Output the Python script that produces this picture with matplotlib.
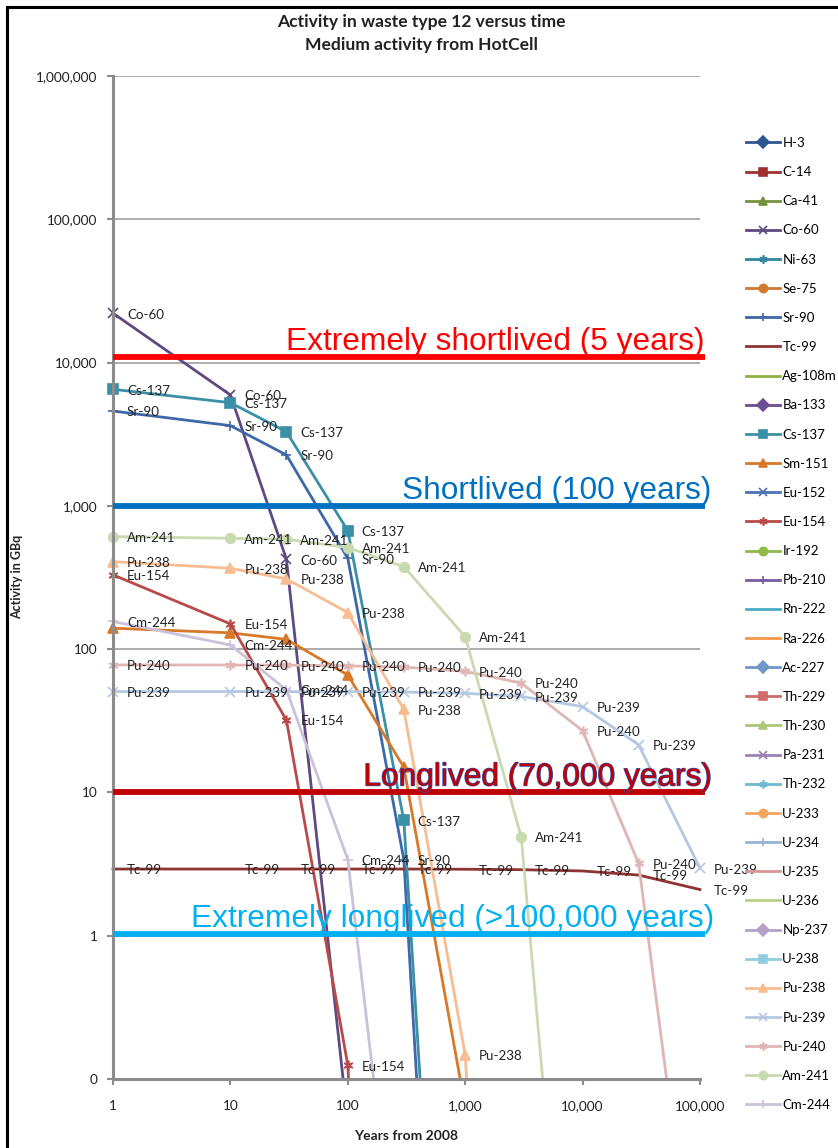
import matplotlib
matplotlib.use("Agg")
import matplotlib.pyplot as plt
import matplotlib.patheffects as pe
import matplotlib.patches as mpatches
from matplotlib.ticker import FuncFormatter, FixedLocator, NullLocator

## Data (GBq), time points in years from 2008
years = [1, 10, 30, 100, 300, 1000, 3000, 10000, 30000, 100000]

co60 = [22100, 5940, 424, 0.05]
cs137 = [6510, 5250, 3290, 671, 6.4, 1e-6]
sr90 = [4590, 3630, 2265, 430, 3.4, 1.7e-7]
tc99 = [2.92, 2.92, 2.92, 2.92, 2.92, 2.91, 2.89, 2.83, 2.65, 2.1]
sm151 = [140, 130, 117, 66, 15, 0.064]
eu154 = [330, 150, 32, 0.125, 1e-8]
pu238 = [408, 367, 309, 180, 38, 0.147, 2e-8]
pu239 = [50.6, 50.6, 50.5, 50.5, 50.2, 49.2, 46.8, 39.7, 21.5, 2.96]
pu240 = [77.6, 77.5, 77.3, 76.4, 75, 70, 58, 27, 3.2, 0.0016]
am241 = [610, 594, 585, 511, 377, 122, 4.9, 7e-5]
cm244 = [156, 107, 52, 3.4, 0.0016]

values = {"Co-60": co60, "Sr-90": sr90, "Tc-99": tc99, "Cs-137": cs137,
          "Sm-151": sm151, "Eu-154": eu154, "Pu-238": pu238, "Pu-239": pu239,
          "Pu-240": pu240, "Am-241": am241, "Cm-244": cm244}
no_labels = ["Sm-151"]

nuclides = ["H-3", "C-14", "Ca-41", "Co-60", "Ni-63", "Se-75", "Sr-90", "Tc-99",
            "Ag-108m", "Ba-133", "Cs-137", "Sm-151", "Eu-152", "Eu-154", "Ir-192",
            "Pb-210", "Rn-222", "Ra-226", "Ac-227", "Th-229", "Th-230", "Pa-231",
            "Th-232", "U-233", "U-234", "U-235", "U-236", "Np-237", "U-238",
            "Pu-238", "Pu-239", "Pu-240", "Am-241", "Cm-244"]

# class limits drawn over the chart
limit_values = [11000, 1000, 10, 1.03]
limit_texts = ["Extremely shortlived (5 years)", "Shortlived (100 years)",
               "Longlived (70,000 years)", "Extremely longlived (>100,000 years)"]
limit_text_end = [110000, 126000, 126000, 131000]

# excel-ish colours and markers
star = (6, 2, 0)
styles = {
    "H-3": ("#2f5590", "D"), "C-14": ("#a0302f", "s"), "Ca-41": ("#77933c", "^"),
    "Co-60": ("#5e4a80", "x"), "Ni-63": ("#31859c", star), "Se-75": ("#d07a30", "o"),
    "Sr-90": ("#3f68a8", "+"), "Tc-99": ("#8e3533", None), "Ag-108m": ("#8db040", None),
    "Ba-133": ("#6b4e91", "D"), "Cs-137": ("#3a90a6", "s"), "Sm-151": ("#d8792a", "^"),
    "Eu-152": ("#4a72b5", "x"), "Eu-154": ("#b84b49", star), "Ir-192": ("#8fba4a", "o"),
    "Pb-210": ("#7a5ca0", "+"), "Rn-222": ("#4bacc6", None), "Ra-226": ("#f79646", None),
    "Ac-227": ("#6f97c8", "D"), "Th-229": ("#cd6c6a", "s"), "Th-230": ("#acc775", "^"),
    "Pa-231": ("#9983b5", "x"), "Th-232": ("#6fb8d0", star), "U-233": ("#f4a65e", "o"),
    "U-234": ("#95b3d7", "+"), "U-235": ("#d99694", None), "U-236": ("#b9d08a", None),
    "Np-237": ("#b3a2c7", "D"), "U-238": ("#93cddd", "s"), "Pu-238": ("#f7bc91", "^"),
    "Pu-239": ("#b4c8e2", "x"), "Pu-240": ("#e0b6b4", star), "Am-241": ("#cadab0", "o"),
    "Cm-244": ("#cbc1da", "+"),
}
limit_colors = ["#ff0000", "#0070c0", "#c00000", "#00b0f0"]

plt.rcParams["font.family"] = ["Lato", "DejaVu Sans"]

fig = plt.figure(figsize=(8.38, 11.48), dpi=100)
ax = fig.add_axes([113/838, 1-1079/1148, 587/838, 1003/1148])
ax.set_xscale("log")
ax.set_yscale("log")
ax.set_xlim(1, 100000)
ax.set_ylim(0.1, 1e6)

clip = mpatches.Rectangle((-0.05, 0), 1.1, 1.0, transform=ax.transAxes,
                          fill=False, visible=False)
ax.add_patch(clip)

for name in nuclides:
    col, mk = styles[name]
    vals = values.get(name, [])
    ms = 7.5 if mk == "s" else 7
    ln, = ax.plot(years[:len(vals)], vals, color=col, marker=mk, ms=ms, mew=1.2,
                  lw=2.0, label=name, zorder=2)
    ln.set_clip_path(clip)
    if name in no_labels:
        continue
    for x, v in zip(years, vals):
        if v >= 0.1:
            ax.annotate(name, (x, v), xytext=(10, -1), textcoords="offset points",
                        fontsize=9.6, color="#222222", va="center", ha="left",
                        annotation_clip=False, zorder=4)

# horizontal class lines with their texts
for v, txt, col, xend in zip(limit_values, limit_texts, limit_colors, limit_text_end):
    ax.plot([1, 110000], [v, v], color=col, lw=4.2, solid_capstyle="butt",
            clip_on=False, zorder=5)
    kw = {}
    if "Longlived" in txt:
        kw["path_effects"] = [pe.Stroke(linewidth=1.0, foreground="#3050b0"), pe.Normal()]
    ax.annotate(txt, (xend, v), xytext=(0, 5),
                textcoords="offset points", ha="right", va="baseline",
                fontsize=22.8, family="Liberation Sans", color=col,
                annotation_clip=False, zorder=6, **kw)

# grid / axes look
ax.yaxis.set_major_locator(FixedLocator([10.0**k for k in range(-1, 7)]))
ax.yaxis.set_minor_locator(NullLocator())
ax.xaxis.set_major_locator(FixedLocator([10.0**k for k in range(0, 6)]))
ax.xaxis.set_minor_locator(NullLocator())
fmt = FuncFormatter(lambda v, p: f"{v:,.0f}")
ax.yaxis.set_major_formatter(fmt)
ax.xaxis.set_major_formatter(fmt)
ax.grid(axis="y", color="#a6a6a6", lw=1.3, zorder=0)
ax.set_axisbelow(True)
for s in ["top", "right"]:
    ax.spines[s].set_visible(False)
for s in ["left", "bottom"]:
    ax.spines[s].set_color("#8c8c8c")
    ax.spines[s].set_linewidth(2.2)
ax.tick_params(axis="both", colors="#8c8c8c", labelcolor="#222222", labelsize=9.8,
               length=4, width=1.5)
ax.tick_params(axis="y", pad=7)
ax.tick_params(axis="x", pad=11)

fig.text(421/838, 1-22/1148, "Activity in waste type 12 versus time", ha="center",
         va="center", fontsize=12.6, fontweight="bold", color="#222222")
fig.text(421/838, 1-45/1148, "Medium activity from HotCell", ha="center",
         va="center", fontsize=12.6, fontweight="bold", color="#222222")
fig.text(17/838, 1-577/1148, "Activity in GBq", rotation=90, ha="center",
         va="center", fontsize=9, fontweight="bold", color="#222222")
fig.text(406/838, 1-1136/1148, "Years from 2008", ha="center", va="center",
         fontsize=10, fontweight="bold", color="#222222")

leg = fig.legend(loc="upper left", bbox_to_anchor=(746/838, 1-137/1148),
                 frameon=False, fontsize=9.5, handlelength=2.6, handletextpad=0.15,
                 labelspacing=1.3, borderpad=0, borderaxespad=0, markerscale=0.85)

fig.patches.append(mpatches.Rectangle((7/838, -0.5), 2.0, 0.5 + 1 - 7/1148,
                                      transform=fig.transFigure, fill=False,
                                      ec="black", lw=2.2))

fig.savefig("out.png", dpi=100)
